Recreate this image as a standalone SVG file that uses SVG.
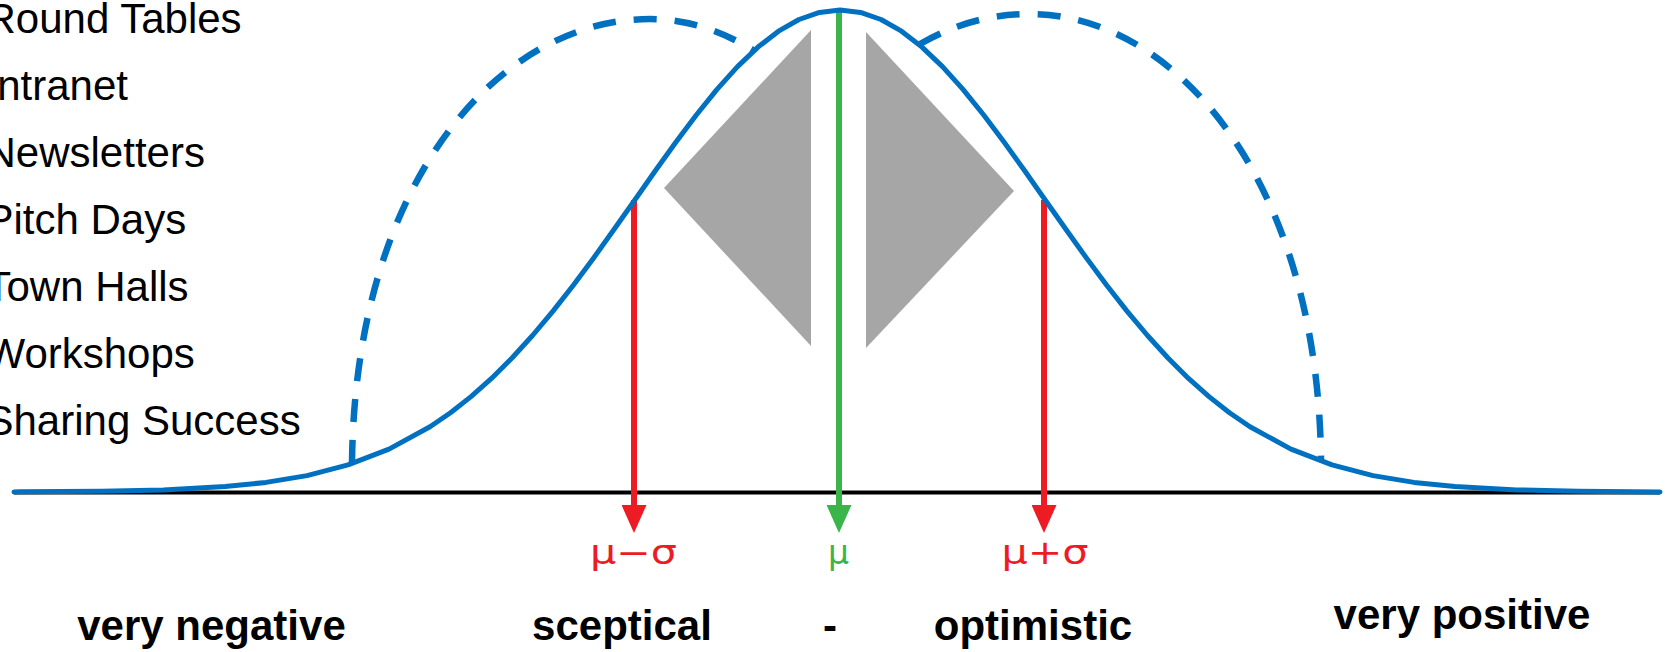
<svg xmlns="http://www.w3.org/2000/svg" width="1667" height="652" viewBox="0 0 1667 652">
<style>
  .list { font-family: "Liberation Sans", Arial, sans-serif; font-size: 42px; fill: #000; }
  .cat { font-family: "Liberation Sans", Arial, sans-serif; font-size: 42px; font-weight: bold; fill: #000; text-anchor: middle; }
  .greek { font-family: "DejaVu Sans", "Liberation Sans", sans-serif; font-size: 33px; text-anchor: middle; }
  .bell { fill: none; stroke: #0070C0; stroke-width: 5; stroke-linejoin: round; stroke-linecap: round; }
  .dash { fill: none; stroke: #0070C0; stroke-width: 6.5; stroke-dasharray: 23 18; }
  .tri { fill: #A6A6A6; }
  .red { stroke: #ED1C24; stroke-width: 6; fill: none; }
  .green { stroke: #39B54A; stroke-width: 6; fill: none; }
</style>
<defs>
  <marker id="ahRed" markerUnits="userSpaceOnUse" markerWidth="25" markerHeight="28" refX="12.5" refY="2" orient="0" viewBox="0 0 25 28">
    <path d="M0,0 L25,0 L12.5,28 Z" fill="#ED1C24"/>
  </marker>
  <marker id="ahGreen" markerUnits="userSpaceOnUse" markerWidth="25" markerHeight="28" refX="12.5" refY="2" orient="0" viewBox="0 0 25 28">
    <path d="M0,0 L25,0 L12.5,28 Z" fill="#39B54A"/>
  </marker>
</defs>
<rect width="1667" height="652" fill="#fff"/>

<g id="channel-list">
  <text class="list" x="-14.5" y="33">Round Tables</text>
  <text class="list" x="-14.5" y="100">Intranet</text>
  <text class="list" x="-14.5" y="167">Newsletters</text>
  <text class="list" x="-14.5" y="234">Pitch Days</text>
  <text class="list" x="-14.5" y="301">Town Halls</text>
  <text class="list" x="-14.5" y="368">Workshops</text>
  <text class="list" x="-14.5" y="435">Sharing Success</text>
</g>

<g id="shapes">
  <polygon class="tri" points="811,30 664,188 811,346"/>
  <polygon class="tri" points="866,32 1014,191 866,348"/>
</g>

<g id="axis">
  <line x1="14" y1="492.5" x2="1660" y2="492.5" stroke="#000" stroke-width="4"/>
</g>

<g id="connectors">
  <line class="red" x1="634" y1="200" x2="634" y2="507" marker-end="url(#ahRed)"/>
  <line class="green" x1="839" y1="10" x2="839" y2="507" marker-end="url(#ahGreen)"/>
  <line class="red" x1="1044" y1="200" x2="1044" y2="507" marker-end="url(#ahRed)"/>
</g>

<g id="curves">
  <path class="dash" d="M352,463 C355,180 500,19 650,19 C690,19 725,33 753,50"/>
  <path class="dash" d="M920,44 C950,27 985,14 1030,14 C1175,14 1318,180 1321,460"/>
  <path class="bell" d="M14,492 L20,491.8 L102,491.3 L163.5,489.9 L225,486.6 L266,482.4 L307,475.6 L348,464.9 L389,449.1 L430,426.8 L450.5,412.7 L471,396.6 L491.5,378.4 L512,358 L532.5,335.5 L553,311.1 L573.5,285 L594,257.4 L614.5,228.8 L635,199.7 L655.5,170.5 L676,142 L696.5,114.7 L717,89.4 L737.5,66.6 L758,47.1 L778.5,31.2 L799,19.5 L819.5,12.4 L840,10 L860.5,12.4 L881,19.5 L901.5,31.2 L922,47.1 L942.5,66.6 L963,89.4 L983.5,114.7 L1004,142 L1024.5,170.5 L1045,199.7 L1065.5,228.8 L1086,257.4 L1106.5,285 L1127,311.1 L1147.5,335.5 L1168,358 L1188.5,378.4 L1209,396.6 L1229.5,412.7 L1250,426.8 L1291,449.1 L1332,464.9 L1373,475.6 L1414,482.4 L1455,486.6 L1516.5,489.9 L1578,491.3 L1660,492"/>
</g>

<g id="labels-greek">
  <text class="greek" x="633.5" y="564" fill="#ED1C24" textLength="87" lengthAdjust="spacingAndGlyphs">μ−σ</text>
  <text class="greek" x="838.5" y="564" fill="#39B54A">μ</text>
  <text class="greek" x="1045" y="564" fill="#ED1C24" textLength="87" lengthAdjust="spacingAndGlyphs">μ+σ</text>
</g>

<g id="labels-categories">
  <text class="cat" x="211.5" y="640">very negative</text>
  <text class="cat" x="622" y="640">sceptical</text>
  <text class="cat" x="830" y="640">-</text>
  <text class="cat" x="1033" y="640">optimistic</text>
  <text class="cat" x="1462" y="629">very positive</text>
</g>
</svg>
